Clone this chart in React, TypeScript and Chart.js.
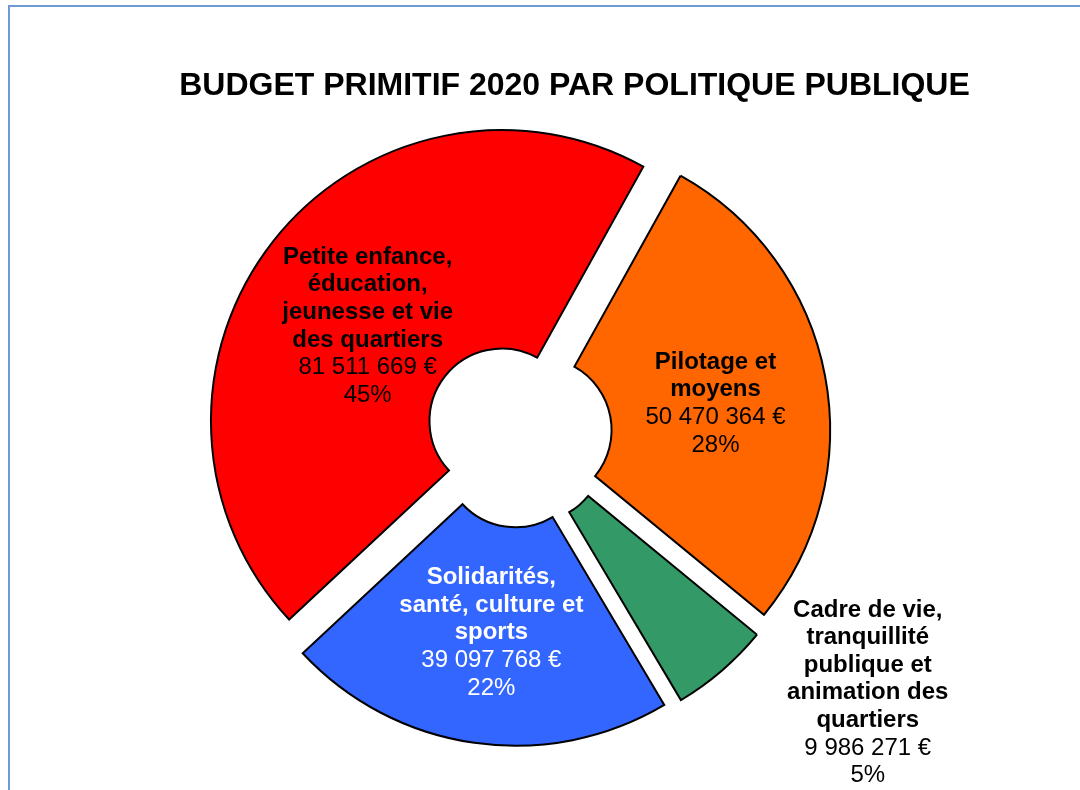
import React, { useEffect, useRef } from 'react';
import { Chart, ArcElement, DoughnutController, registerables } from 'chart.js';

// ---------- data ----------
const TITLE = 'BUDGET PRIMITIF 2020 PAR POLITIQUE PUBLIQUE';
const categories: string[][] = [
  ['Petite enfance,', 'éducation,', 'jeunesse et vie', 'des quartiers'],
  ['Pilotage et', 'moyens'],
  ['Cadre de vie,', 'tranquillité', 'publique et', 'animation des', 'quartiers'],
  ['Solidarités,', 'santé, culture et', 'sports'],
];
const amounts: number[] = [81511669, 50470364, 9986271, 39097768];
const percentLabels: string[] = ['45%', '28%', '5%', '22%'];

// ---------- styles ----------
const sliceColors = ['#FF0000', '#FF6600', '#339966', '#3366FF'];
const labelColors = ['#000000', '#000000', '#000000', '#FFFFFF'];
const FONT = '"Liberation Sans", Arial, Helvetica, sans-serif';
const EXPLODE = 21; // px each slice is pulled out along its mid angle
const LINE_H = 27.6;
// label placement relative to each slice's mid angle (degrees turn, distance from centre in px)
const labelPlacement = [
  { turn: -4.2, dist: 181.6 },
  { turn: 3.9, dist: 198.4 },
  { turn: -12.1, dist: 438.7 },
  { turn: -0.6, dist: 207.1 },
];

// Arc that is translated outward (pure "explosion", like the spreadsheet chart)
class ExplodedArc extends ArcElement {
  static id = 'explodedArc';
  draw(ctx: CanvasRenderingContext2D) {
    const self: any = this;
    const mid = (self.startAngle + self.endAngle) / 2;
    ctx.save();
    ctx.translate(Math.cos(mid) * EXPLODE, Math.sin(mid) * EXPLODE);
    super.draw(ctx);
    ctx.restore();
  }
}

class ExplodedDoughnutController extends DoughnutController {
  static id = 'explodedDoughnut';
  static defaults = { dataElementType: 'explodedArc' };
}

Chart.register(...registerables, ExplodedArc, ExplodedDoughnutController);

const formatEuro = (v: number) =>
  String(v).replace(/\B(?=(\d{3})+(?!\d))/g, ' ') + ' €';

const framePlugin = {
  id: 'frameAndTitle',
  beforeDraw(chart: any) {
    const ctx = chart.ctx as CanvasRenderingContext2D;
    ctx.save();
    ctx.fillStyle = '#FFFFFF';
    ctx.fillRect(0, 0, chart.width, chart.height);
    ctx.strokeStyle = '#6E99D3';
    ctx.lineWidth = 2;
    ctx.beginPath();
    ctx.moveTo(9, chart.height + 5);
    ctx.lineTo(9, 6);
    ctx.lineTo(chart.width + 5, 6);
    ctx.stroke();
    ctx.restore();
  },
  afterDraw(chart: any) {
    const ctx = chart.ctx as CanvasRenderingContext2D;
    ctx.save();
    ctx.fillStyle = '#000000';
    ctx.font = `bold 32px ${FONT}`;
    ctx.textAlign = 'center';
    ctx.textBaseline = 'alphabetic';
    ctx.fillText(TITLE, 574.5, 95);
    ctx.restore();
  },
};

const labelPlugin = {
  id: 'sliceLabels',
  afterDatasetsDraw(chart: any) {
    const ctx = chart.ctx as CanvasRenderingContext2D;
    const meta = chart.getDatasetMeta(0);
    const labels = chart.data.labels as string[][];
    const values = chart.data.datasets[0].data as number[];
    meta.data.forEach((arc: any, i: number) => {
      const { x, y, startAngle, endAngle } = arc.getProps(['x', 'y', 'startAngle', 'endAngle'], true);
      const place = labelPlacement[i];
      const a = (startAngle + endAngle) / 2 + (place.turn * Math.PI) / 180;
      const px = x + Math.cos(a) * place.dist;
      const py = y + Math.sin(a) * place.dist;
      const lines = [
        ...labels[i].map((t) => ({ t, bold: true })),
        { t: formatEuro(values[i]), bold: false },
        { t: percentLabels[i], bold: false },
      ];
      const n = lines.length;
      ctx.save();
      ctx.fillStyle = labelColors[i];
      ctx.textAlign = 'center';
      ctx.textBaseline = 'alphabetic';
      lines.forEach((ln, k) => {
        ctx.font = `${ln.bold ? 'bold ' : ''}24px ${FONT}`;
        ctx.fillText(ln.t, px, py + (k - (n - 1) / 2) * LINE_H);
      });
      ctx.restore();
    });
  },
};

export default function App() {
  const canvasRef = useRef<HTMLCanvasElement | null>(null);

  useEffect(() => {
    if (!canvasRef.current) return;
    const chart = new Chart(canvasRef.current, {
      type: 'explodedDoughnut' as any,
      data: {
        labels: categories,
        datasets: [
          {
            data: amounts,
            backgroundColor: sliceColors,
            borderColor: '#000000',
            borderWidth: 2,
            borderJoinStyle: 'miter',
          } as any,
        ],
      },
      options: {
        animation: false,
        responsive: true,
        maintainAspectRatio: false,
        events: [],
        radius: 291,
        cutout: '24.9%',
        rotation: 227,
        circumference: 360,
        layout: { padding: { left: 0, right: 43, top: 100, bottom: 22 } },
        plugins: {
          legend: { display: false },
          tooltip: { enabled: false },
          title: { display: false },
        },
      } as any,
      plugins: [framePlugin, labelPlugin],
    });
    return () => chart.destroy();
  }, []);

  return (
    <div style={{ position: 'absolute', left: 0, top: 0, width: 1080, height: 790, overflow: 'hidden' }}>
      <canvas ref={canvasRef} />
    </div>
  );
}
